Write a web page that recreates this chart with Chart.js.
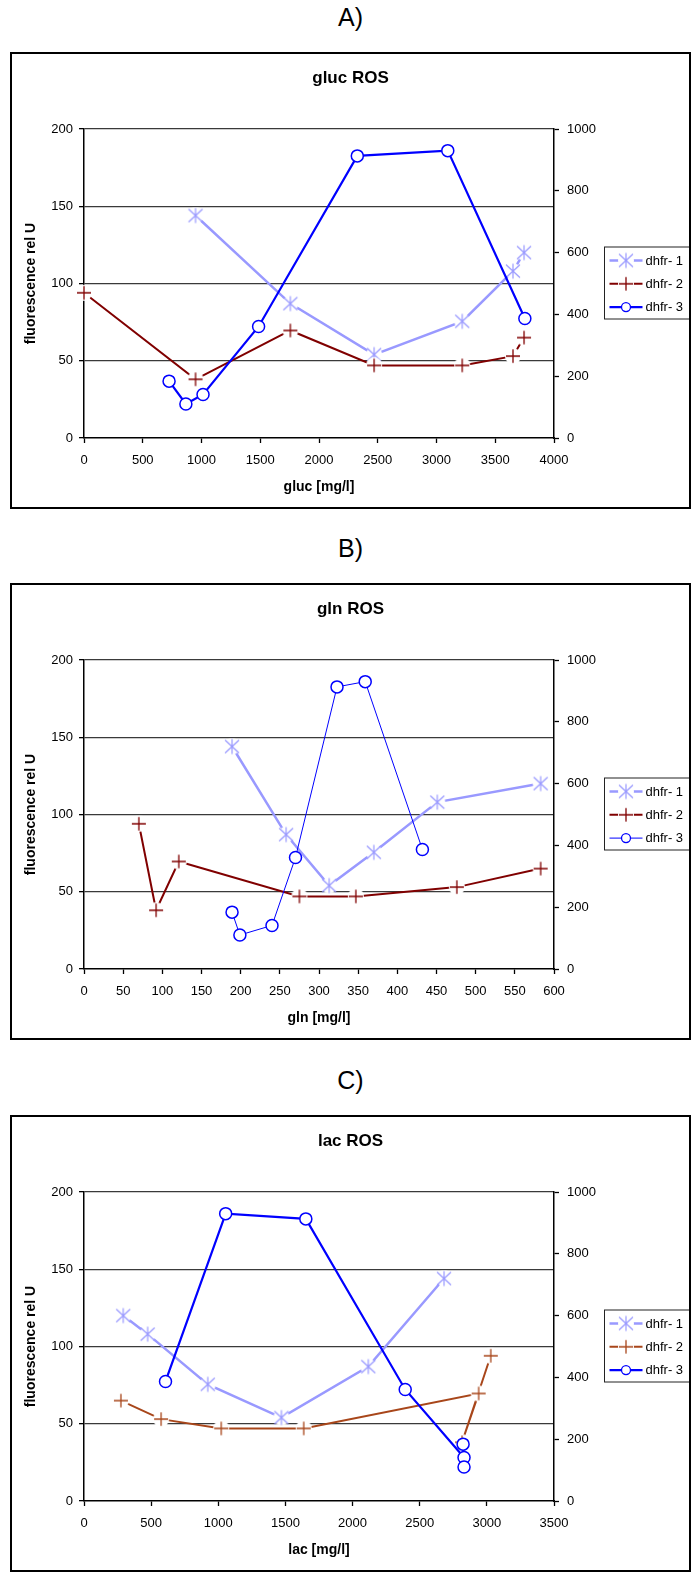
<!DOCTYPE html>
<html>
<head>
<meta charset="utf-8">
<title>ROS vs gluc / gln / lac</title>
<script src="https://cdn.jsdelivr.net/npm/chart.js@4.4.1/dist/chart.umd.min.js"></script>
<style>
  body {
    margin: 0;
    background: #fff;
    width: 693px;
    height: 1573px;
    position: relative;
    overflow: hidden;
    font-family: Arial, "Liberation Sans", sans-serif;
  }
  .panel-label {
    position: absolute;
    left: 10px;
    width: 681px;
    height: 30px;
    line-height: 30px;
    text-align: center;
    font-size: 25px;
    color: #000;
  }
  .panel-box {
    position: absolute;
    left: 10px;
    width: 681px;
    height: 457px;
    border: 2px solid #000;
    box-sizing: border-box;
    background: #fff;
  }
  .panel-box canvas { display: block; }
</style>
</head>
<body>

<div class="panel-label" style="top:2px">A)</div>
<div class="panel-box" style="top:52px"><canvas id="chartGluc" width="677" height="453"></canvas></div>

<div class="panel-label" style="top:533px">B)</div>
<div class="panel-box" style="top:583px"><canvas id="chartGln" width="677" height="453"></canvas></div>

<div class="panel-label" style="top:1065px">C)</div>
<div class="panel-box" style="top:1115px"><canvas id="chartLac" width="677" height="453"></canvas></div>

<script>
/* ============================================
   DATA
============================================ */

const seriesLabels = ["dhfr- 1", "dhfr- 2", "dhfr- 3"];

// fluorescence rel U, samples in time order (same samples in all three plots)
const rosDhfr1 = [120, 108, 75.5, 54, 87, 144];
const rosDhfr2 = [65, 53, 47, 47, 69.6, 38, 94];
const rosDhfr3 = [387, 930, 913, 361, 141, 110, 184];   // right axis

// gluc [mg/l]
const glucDhfr1 = [3745, 3651, 3219, 2469, 1756, 949];
const glucDhfr2 = [3745, 3651, 3219, 2469, 1756, 949, 0];
const glucDhfr3 = [3752, 3096, 2326, 1486, 1013, 867, 724];

// gln [mg/l]
const glnDhfr1 = [583, 451, 370, 313, 258, 189];
const glnDhfr2 = [583, 476, 347, 275, 121, 92, 70];
const glnDhfr3 = [432, 359, 323, 270, 240, 199, 189];

// lac [mg/l]
const lacDhfr1 = [292, 474, 922, 1470, 2117, 2681];
const lacDhfr2 = [275, 574, 1022, 1636, 2939, 2815, 3029];
const lacDhfr3 = [607, 1055, 1652, 2392, 2830, 2830, 2823];

// axis ticks
const leftTicks = [0, 50, 100, 150, 200];
const rightTicks = [0, 200, 400, 600, 800, 1000];
const glucTicks = [0, 500, 1000, 1500, 2000, 2500, 3000, 3500, 4000];
const glnTicks = [0, 50, 100, 150, 200, 250, 300, 350, 400, 450, 500, 550, 600];
const lacTicks = [0, 500, 1000, 1500, 2000, 2500, 3000, 3500];

/* ============================================
   Markers (Excel style, white halo behind)
============================================ */

function starMarker(color) {
    const c = document.createElement("canvas");
    c.width = 20;
    c.height = 20;
    const g = c.getContext("2d");
    g.fillStyle = "#fff";
    g.beginPath();
    g.arc(10, 10, 8, 0, Math.PI * 2);
    g.fill();
    g.strokeStyle = color;
    g.lineWidth = 1.2;
    g.beginPath();
    g.moveTo(10, 2.5); g.lineTo(10, 17.5);
    g.moveTo(3, 3.5); g.lineTo(17, 16.5);
    g.moveTo(17, 3.5); g.lineTo(3, 16.5);
    g.stroke();
    return c;
}

function crossMarker(color) {
    const c = document.createElement("canvas");
    c.width = 20;
    c.height = 20;
    const g = c.getContext("2d");
    g.fillStyle = "#fff";
    g.beginPath();
    g.arc(10, 10, 8, 0, Math.PI * 2);
    g.fill();
    g.strokeStyle = color;
    g.lineWidth = 1.3;
    g.beginPath();
    g.moveTo(3, 10); g.lineTo(17, 10);
    g.moveTo(10, 3.3); g.lineTo(10, 16.7);
    g.stroke();
    return c;
}

/* ============================================
   Legend with a frame, line + marker + text
============================================ */

const boxedLegend = {
    id: "boxedLegend",
    afterDraw(chart, args, opts) {
        const { ctx, chartArea } = chart;
        const left = chartArea.right + opts.offsetX;
        const top = (chartArea.top + chartArea.bottom) / 2 - opts.height / 2 - 1;

        ctx.save();
        ctx.fillStyle = "#fff";
        ctx.fillRect(left, top, opts.width, opts.height);
        ctx.strokeStyle = "#222";
        ctx.lineWidth = 1;
        ctx.strokeRect(left + 0.5, top + 0.5, opts.width, opts.height);

        chart.data.datasets.forEach((ds, i) => {
            const y = top + opts.firstRow + i * opts.rowGap;
            const x0 = left + 5.5;
            const x1 = x0 + 33;
            const xm = (x0 + x1) / 2;

            ctx.strokeStyle = ds.borderColor;
            ctx.lineWidth = ds.borderWidth;
            ctx.beginPath();
            ctx.moveTo(x0, y);
            ctx.lineTo(x1, y);
            ctx.stroke();

            if (typeof ds.pointStyle === "object") {
                ctx.drawImage(ds.pointStyle, xm - ds.pointStyle.width / 2, y - ds.pointStyle.height / 2);
            } else {
                ctx.fillStyle = "#fff";
                ctx.strokeStyle = ds.borderColor;
                ctx.lineWidth = 1.3;
                ctx.beginPath();
                ctx.arc(xm, y, 4.5, 0, Math.PI * 2);
                ctx.fill();
                ctx.stroke();
            }

            ctx.fillStyle = "#000";
            ctx.font = "13px Arial, 'Liberation Sans', sans-serif";
            ctx.textBaseline = "middle";
            ctx.textAlign = "left";
            ctx.fillText(ds.label, x1 + 3, y + 0.5);
        });
        ctx.restore();
    }
};

/* ============================================
   Build one panel
============================================ */

Chart.defaults.font.family = "Arial, 'Liberation Sans', sans-serif";
Chart.defaults.font.size = 13;
Chart.defaults.color = "#000";

function fixedTicks(list) {
    return axis => {
        axis.ticks = list.map(v => ({ value: v }));
    };
}

const plainNumber = v => String(v);

function buildChart(cfg) {
    const markers = [starMarker(cfg.colors[0]), crossMarker(cfg.colors[1]), "circle"];
    const rosValues = [rosDhfr1, rosDhfr2, rosDhfr3];
    const widths = [2.5, 2, cfg.blueWidth];

    const datasets = seriesLabels.map((label, i) => ({
        label: label,
        data: cfg.xs[i].map((x, k) => ({ x: x, y: rosValues[i][k] })),
        yAxisID: i === 2 ? "y1" : "y",
        showLine: true,
        tension: 0,
        clip: false,
        order: 3 - i,
        borderColor: cfg.colors[i],
        borderWidth: widths[i],
        backgroundColor: "#fff",
        pointStyle: markers[i],
        pointRadius: i === 2 ? 6 : 7,
        pointBackgroundColor: "#fff",
        pointBorderColor: cfg.colors[i],
        pointBorderWidth: 1.5
    }));

    new Chart(document.getElementById(cfg.id), {
        type: "scatter",
        data: { datasets: datasets },
        plugins: [boxedLegend],
        options: {
            responsive: false,
            animation: false,
            events: [],
            layout: { padding: 0 },
            plugins: {
                legend: { display: false },
                tooltip: { enabled: false },
                title: {
                    display: true,
                    text: cfg.title,
                    color: "#000",
                    font: { size: 17, weight: "bold" },
                    padding: { top: 13.8, bottom: 40.8 }
                },
                boxedLegend: { offsetX: 50, width: 85, height: 72, firstRow: 14, rowGap: 23.3 }
            },
            scales: {
                x: {
                    type: "linear",
                    min: cfg.xTicks[0],
                    max: cfg.xTicks[cfg.xTicks.length - 1],
                    afterBuildTicks: fixedTicks(cfg.xTicks),
                    afterFit: axis => { axis.height = 69; },
                    grid: { drawOnChartArea: false, drawTicks: true, tickLength: 5, tickColor: "#000", tickWidth: 1.3 },
                    border: { color: "#000", width: 1.5 },
                    ticks: { color: "#000", padding: 10, maxRotation: 0, autoSkip: false, callback: plainNumber },
                    title: {
                        display: true,
                        text: cfg.xTitle,
                        color: "#000",
                        font: { size: 14, weight: "bold" },
                        padding: { top: 11, bottom: 11.5 }
                    }
                },
                y: {
                    position: "left",
                    min: 0,
                    max: 200,
                    afterBuildTicks: fixedTicks(leftTicks),
                    afterFit: axis => { axis.width = 72; },
                    grid: {
                        color: c => (c.tick && c.tick.value === 0 ? "rgba(0,0,0,0)" : "#3a3a3a"),
                        lineWidth: 1.3,
                        drawTicks: true,
                        tickLength: 5,
                        tickColor: "#000",
                        tickWidth: 1.3
                    },
                    border: { color: "#000", width: 1.5 },
                    ticks: { color: "#000", padding: 6, callback: plainNumber },
                    title: {
                        display: true,
                        text: "fluorescence rel U",
                        color: "#000",
                        font: { size: 14, weight: "bold" },
                        padding: { top: 10.5, bottom: 8 }
                    }
                },
                y1: {
                    position: "right",
                    min: 0,
                    max: 1000,
                    afterBuildTicks: fixedTicks(rightTicks),
                    // right axis plus room for the framed legend
                    afterFit: axis => { axis.width = 135; },
                    grid: { drawOnChartArea: false, drawTicks: true, tickLength: 5, tickColor: "#000", tickWidth: 1.3 },
                    border: { color: "#000", width: 1.5 },
                    ticks: { color: "#000", padding: 8, callback: plainNumber }
                }
            }
        }
    });
}

/* ============================================
   INIT
============================================ */

buildChart({
    id: "chartGluc",
    title: "gluc ROS",
    xTitle: "gluc [mg/l]",
    xTicks: glucTicks,
    xs: [glucDhfr1, glucDhfr2, glucDhfr3],
    colors: ["#9999ff", "#800000", "#0000ff"],
    blueWidth: 2.2
});

buildChart({
    id: "chartGln",
    title: "gln ROS",
    xTitle: "gln [mg/l]",
    xTicks: glnTicks,
    xs: [glnDhfr1, glnDhfr2, glnDhfr3],
    colors: ["#9999ff", "#800000", "#0000ff"],
    blueWidth: 1
});

buildChart({
    id: "chartLac",
    title: "lac ROS",
    xTitle: "lac [mg/l]",
    xTicks: lacTicks,
    xs: [lacDhfr1, lacDhfr2, lacDhfr3],
    colors: ["#9999ff", "#a8461a", "#0000ff"],
    blueWidth: 2.2
});
</script>
</body>
</html>
